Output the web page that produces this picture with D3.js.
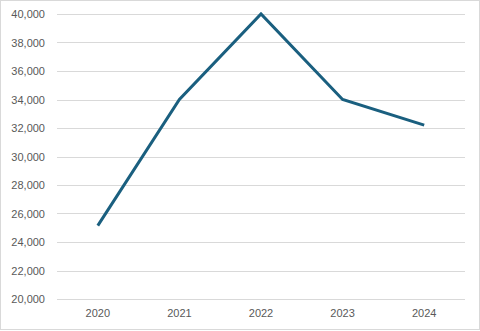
<!DOCTYPE html>
<html><head><meta charset="utf-8">
<script src="https://cdn.jsdelivr.net/npm/d3@7"></script>
<style>body{margin:0;background:#fff}svg{display:block}</style>
</head><body>
<script>
const categories = ["2020","2021","2022","2023","2024"];
const values = [25150, 34000, 40000, 34000, 32200];
const yTicks = [20000,22000,24000,26000,28000,30000,32000,34000,36000,38000,40000];

const W = 480, H = 331;
const svg = d3.select("body").append("svg").attr("width", W).attr("height", H);
svg.append("rect").attr("x",0.5).attr("y",0.5).attr("width",W-1).attr("height",H-2)
  .attr("fill","#fff").attr("stroke","#d9d9d9");

const x = d3.scaleBand().domain(categories).range([57, 465]);
const y = d3.scaleLinear().domain([20000, 40000]).range([299, 14]);

const grid = svg.append("g");
grid.selectAll("line").data(yTicks).enter().append("line")
  .attr("x1", 57).attr("x2", 465)
  .attr("y1", d => Math.round(y(d)) + 0.5).attr("y2", d => Math.round(y(d)) + 0.5)
  .attr("stroke", "#d9d9d9").attr("stroke-width", 1);

const fmt = d3.format(",");
const yAxis = svg.append("g").attr("transform","translate(45,0)")
  .call(d3.axisLeft(y).tickValues(yTicks).tickFormat(fmt).tickSize(0).tickPadding(0));
yAxis.select(".domain").remove();
yAxis.selectAll("text").attr("fill","#595959").style("font-family","Liberation Sans, Arial, sans-serif").style("font-size","11px");

const xAxis = svg.append("g").attr("transform","translate(0,309)")
  .call(d3.axisBottom(x).tickSize(0).tickPadding(0));
xAxis.select(".domain").remove();
xAxis.selectAll("text").attr("fill","#595959").attr("dy","0.71em").style("font-family","Liberation Sans, Arial, sans-serif").style("font-size","11px");

const line = d3.line().x((d,i) => x(categories[i]) + x.bandwidth()/2).y(d => y(d));
svg.append("path").datum(values).attr("d", line)
  .attr("fill","none").attr("stroke","#1a5f7f").attr("stroke-width",3)
  .attr("stroke-linejoin","miter").attr("stroke-linecap","butt");
</script>
</body></html>
